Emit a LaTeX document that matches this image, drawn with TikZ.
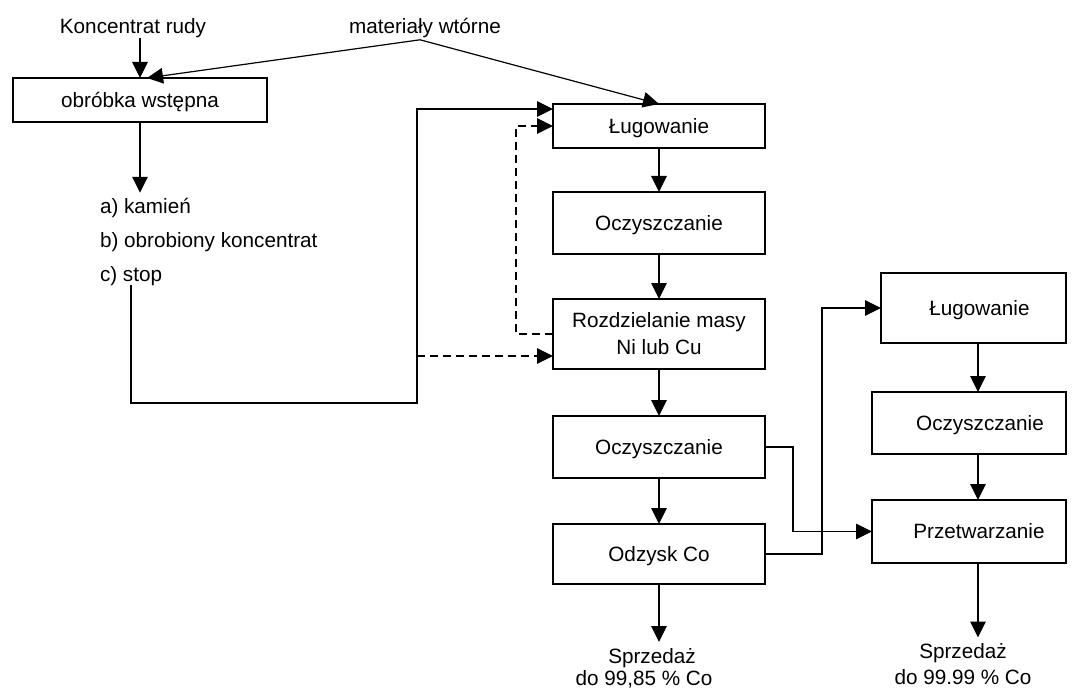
\documentclass[tikz,border=0pt]{standalone}
\usepackage{fontspec}
\setmainfont{Liberation Sans}
\usetikzlibrary{arrows.meta}
\begin{document}
\begin{tikzpicture}[x=1pt,y=-1pt,
  every node/.style={font=\fontsize{20.7}{24}\selectfont, inner sep=0pt, outer sep=0pt},
  box/.style={draw, line width=1.2pt, minimum width=212pt},
  one/.style={text height=16pt, text depth=1.6pt},
  lbl/.style={anchor=base},
  arr/.style={line width=1.2pt, -{Triangle[length=16pt,width=15.5pt]}},
  dsh/.style={arr, dash pattern=on 8pt off 5pt}]
\useasboundingbox (0,0) rectangle (1072,690);

% inputs
\node[lbl] (kr) at (133,33.5) {Koncentrat rudy};
\node[lbl] (mw) at (425,33.5) {materiały wtórne};
\coordinate (mwp) at ([xshift=-5pt,yshift=-2pt]mw.south);

% pre-treatment and its products
\node[box, one, minimum width=254pt, minimum height=44pt] (ob) at (140,100) {obróbka wstępna};
\node[anchor=base west, inner ysep=6pt] (ta) at (100,214) {a) kamień};
\node[anchor=base west] (tb) at (100,247.5) {b) obrobiony koncentrat};
\node[anchor=base west] (tc) at (100,281) {c) stop};

% main line
\node[box, one, minimum height=44pt] (lug1) at (659,126) {Ługowanie};
\node[box, one, minimum height=62pt] (ocz1) at (659,223) {Oczyszczanie};
\node[box, minimum height=70pt, align=center, font=\fontsize{20.7}{27}\selectfont] (rozd) at (659,334) {Rozdzielanie masy\\Ni lub Cu};
\node[box, one, minimum height=62pt] (ocz2) at (659,447) {Oczyszczanie};
\node[box, one, minimum height=60pt] (odz) at (659,554) {Odzysk Co};

% cobalt refining line
\node[box, minimum width=185pt, minimum height=70pt, label={[one, xshift=6pt]center:Ługowanie}] (lug2) at (973.5,308) {};
\node[box, minimum width=194pt, minimum height=62pt, label={[one, xshift=11pt]center:Oczyszczanie}] (ocz3) at (969,423) {};
\node[box, minimum width=194pt, minimum height=63pt, label={[one, xshift=10pt]center:Przetwarzanie}] (prz) at (969,531.5) {};

% products
\node[lbl, inner ysep=6pt] (s1a) at (652,663) {Sprzedaż};
\node[lbl] (s1b) at (644,685.5) {do 99,85 \% Co};
\node[lbl, inner ysep=6pt] (s2a) at (963,658.5) {Sprzedaż};
\node[lbl] (s2b) at (963,684) {do 99.99 \% Co};

\coordinate (rx) at (978,0);
\coordinate (tap) at (417,356);

% feed arrows
\draw[arr] (kr.south -| ob.north) -- (ob.north);
\draw[arr] (mwp) -- ([xshift=7pt]ob.north);
\draw[arr] (mwp) -- (lug1.north);
\draw[arr] (ob.south) -- (ob.south |- ta.north);

% alloy route into leaching
\draw[arr] (tc.south) |- (417,403) |- ([yshift=-5pt]lug1.north west);
\draw[dsh] (tap) -- (tap -| rozd.west);
\draw[dsh] (rozd.west) -- ++(-37,0) |- (lug1.west);

% main line flow
\draw[arr] (lug1.south) -- (ocz1.north);
\draw[arr] (ocz1.south) -- (rozd.north);
\draw[arr] (rozd.south) -- (ocz2.north);
\draw[arr] (ocz2.south) -- (odz.north);
\draw[arr] (odz.south) -- (s1a.north -| odz.south);

% transfers to the refining line
\draw[arr] (ocz2.east) -- ++(28,0) |- (prz.west);
\draw[arr] (odz.east) -- ++(57,0) |- (lug2.west);

% refining line flow
\draw[arr] (lug2.south -| rx) -- (ocz3.north -| rx);
\draw[arr] (ocz3.south -| rx) -- (prz.north -| rx);
\draw[arr] (prz.south -| rx) -- (s2a.north -| rx);
\end{tikzpicture}
\end{document}
